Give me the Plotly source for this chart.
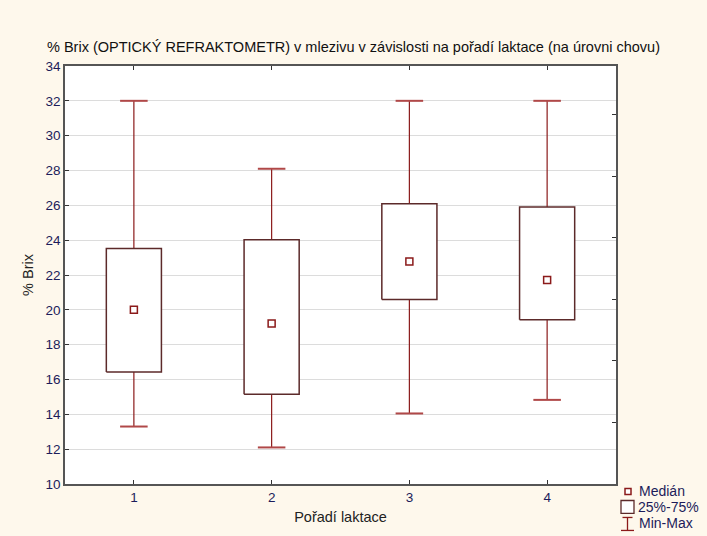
import plotly.graph_objects as go

categories = ["1", "2", "3", "4"]
v_min = [13.3, 12.1, 14.05, 14.83]
v_q1 = [16.43, 15.15, 20.6, 19.43]
v_median = [20.0, 19.22, 22.77, 21.72]
v_q3 = [23.52, 24.02, 26.09, 25.9]
v_max = [32.0, 28.1, 32.0, 32.0]
y_ticks = [10, 12, 14, 16, 18, 20, 22, 24, 26, 28, 30, 32, 34]

RED = "#8b1a1a"
BOXC = "#5c2a2a"
BG = "#fef8ec"
FONT = "Liberation Sans, Arial, sans-serif"
TICKC = "#1c1c5a"

BOX_HALF = 0.2
CAP_HALF = 0.1

fig = go.Figure()
pos = [i + 1 for i in range(len(categories))]

# whiskers
wx, wy, cx, cy = [], [], [], []
for p, lo, q1, q3, hi in zip(pos, v_min, v_q1, v_q3, v_max):
    wx += [p, p, None, p, p, None]
    wy += [q3, hi, None, lo, q1, None]
    cx += [p - CAP_HALF, p + CAP_HALF, None, p - CAP_HALF, p + CAP_HALF, None]
    cy += [hi, hi, None, lo, lo, None]
fig.add_trace(go.Scatter(x=wx, y=wy, mode="lines", line=dict(color=RED, width=1.2),
                         hoverinfo="skip", showlegend=False))
fig.add_trace(go.Scatter(x=cx, y=cy, mode="lines", line=dict(color="#b04848", width=2),
                         hoverinfo="skip", showlegend=False))

# boxes
for p, q1, q3 in zip(pos, v_q1, v_q3):
    fig.add_trace(go.Scatter(
        x=[p - BOX_HALF, p + BOX_HALF, p + BOX_HALF, p - BOX_HALF, p - BOX_HALF],
        y=[q1, q1, q3, q3, q1], mode="lines", fill="toself", fillcolor="white",
        line=dict(color=BOXC, width=1.5), hoverinfo="skip", showlegend=False))

# medians
fig.add_trace(go.Scatter(x=pos, y=v_median, mode="markers",
                         marker=dict(symbol="square", size=7, color="white",
                                     line=dict(color=RED, width=1.5)),
                         showlegend=False))

# secondary axis just for the inner right ticks
fig.add_trace(go.Scatter(x=[None], y=[None], yaxis="y2", showlegend=False))

L, R, T, B = 65, 616, 66, 484.5
W, H = 707, 536


def px(x):
    return (x - L) / (R - L)


def py(y):
    return (B - y) / (B - T)


shapes = []
annotations = []
LEGF = dict(size=14, color=TICKC, family=FONT)
# legend: median
shapes.append(dict(type="rect", xref="paper", yref="paper",
                   x0=px(625), x1=px(631), y0=py(495), y1=py(489),
                   line=dict(color=RED, width=1.5), fillcolor="white"))
annotations.append(dict(text="Medián", xref="paper", yref="paper", x=px(637), y=py(492),
                        xanchor="left", yanchor="middle", showarrow=False, font=LEGF))
# legend: box
shapes.append(dict(type="rect", xref="paper", yref="paper",
                   x0=px(621), x1=px(634), y0=py(514), y1=py(501),
                   line=dict(color=BOXC, width=1.3), fillcolor="white"))
annotations.append(dict(text="25%-75%", xref="paper", yref="paper", x=px(636), y=py(508),
                        xanchor="left", yanchor="middle", showarrow=False, font=LEGF))
# legend: min-max
shapes.append(dict(type="line", xref="paper", yref="paper",
                   x0=px(627.5), x1=px(627.5), y0=py(518), y1=py(531),
                   line=dict(color=RED, width=1.3)))
shapes.append(dict(type="line", xref="paper", yref="paper",
                   x0=px(622.5), x1=px(632.5), y0=py(518), y1=py(518),
                   line=dict(color=RED, width=1.3)))
shapes.append(dict(type="line", xref="paper", yref="paper",
                   x0=px(621), x1=px(634), y0=py(531), y1=py(531),
                   line=dict(color=RED, width=1.3)))
annotations.append(dict(text="Min-Max", xref="paper", yref="paper", x=px(637), y=py(524),
                        xanchor="left", yanchor="middle", showarrow=False, font=LEGF))

fig.update_layout(
    width=W, height=H,
    margin=dict(l=L, r=W - R, t=T, b=H - B),
    paper_bgcolor=BG, plot_bgcolor="white",
    font=dict(family=FONT, size=13, color="#222222"),
    title=dict(text="% Brix (OPTICKÝ REFRAKTOMETR) v mlezivu v závislosti na pořadí laktace (na úrovni chovu)",
               x=0.5, xanchor="center", y=1 - 47 / H, yanchor="middle",
               font=dict(size=14.5, color="#111111", family=FONT)),
    xaxis=dict(range=[0.5, 4.5], tickvals=pos, ticktext=categories,
               showgrid=False, zeroline=False, showline=True, linecolor="#555555",
               linewidth=1.5, mirror="ticks", ticks="inside", ticklen=4, tickcolor="#333333",
               tickfont=dict(size=13.5, color=TICKC, family=FONT),
               title=dict(text="Pořadí laktace", standoff=8,
                          font=dict(size=14.5, color="#222222", family=FONT))),
    yaxis=dict(range=[10, 34], tickvals=y_ticks, showgrid=True, gridcolor="#dcdcdc",
               gridwidth=1, zeroline=False, showline=True, linecolor="#555555",
               linewidth=1.5, ticks="inside", ticklen=4, tickcolor="#333333",
               tickfont=dict(size=13.5, color=TICKC, family=FONT),
               title=dict(text="% Brix", standoff=8,
                          font=dict(size=14.5, color="#222222", family=FONT))),
    yaxis2=dict(overlaying="y", side="right", range=[0, 6.79], dtick=1,
                showgrid=False, zeroline=False, showline=True, linecolor="#555555",
                linewidth=1.5, ticks="inside", ticklen=4, tickcolor="#333333",
                showticklabels=False),
    shapes=shapes, annotations=annotations,
)

fig.write_html("out.html", config={"displayModeBar": False},
               post_script="document.body.style.margin='0';")
